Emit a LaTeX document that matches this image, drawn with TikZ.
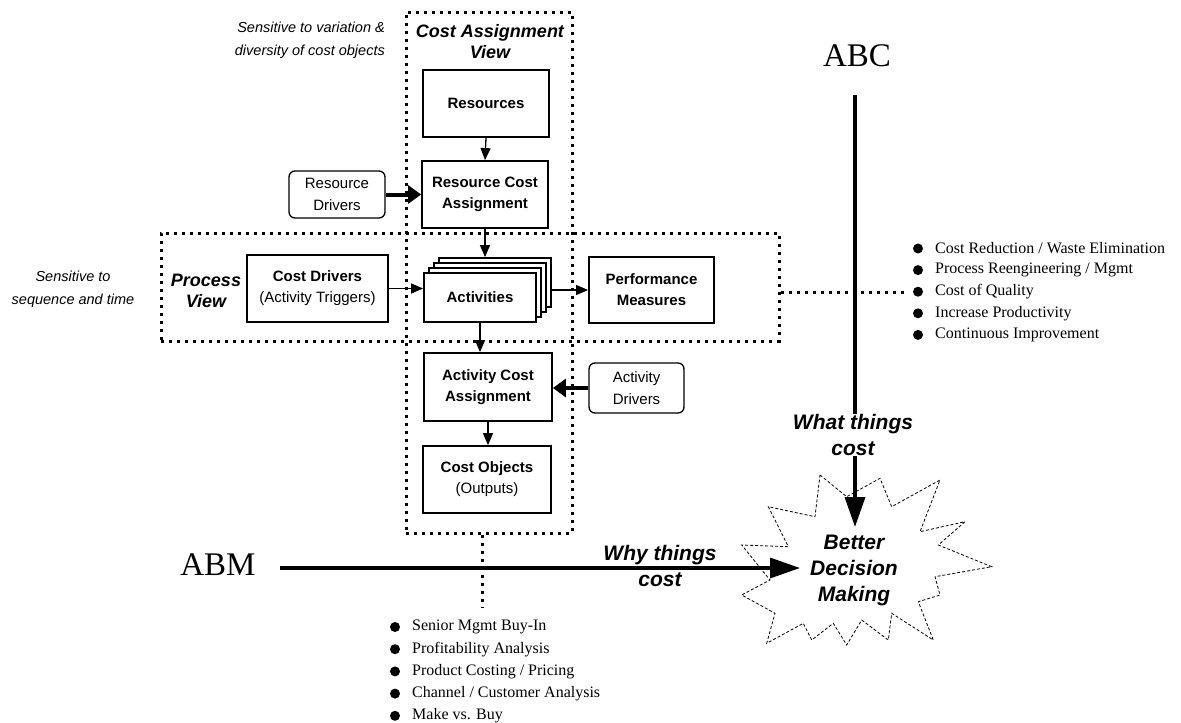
\documentclass[tikz,border=0pt]{standalone}
\usepackage{fontspec}
\setmainfont{Liberation Serif}
\setsansfont{Liberation Sans}
\usetikzlibrary{arrows.meta}

\begin{document}
\begin{tikzpicture}[x=1pt,y=-1pt,
  box/.style={draw, line width=1.8pt, fill=white, inner sep=0pt, align=center,
    font=\sffamily\fontsize{15}{21}\selectfont},
  drvbox/.style={draw, line width=1.3pt, rounded corners=6pt, fill=white, inner sep=0pt,
    align=center, font=\sffamily\fontsize{15}{22}\selectfont},
  dotframe/.style={line width=3pt, dash pattern=on 3pt off 5pt},
  flow/.style={line width=1.3pt, -{Triangle[length=12pt,width=10pt]}},
  drive/.style={line width=4pt, -{Triangle[length=13pt,width=18pt]}},
  bigline/.style={line width=3.5pt},
  bigarrow/.style={line width=3.5pt, -{Triangle[length=30pt,width=20pt]}},
  viewtitle/.style={font=\sffamily\bfseries\itshape\fontsize{18}{21}\selectfont,
    align=center, inner sep=0pt},
  sidenote/.style={font=\sffamily\itshape\fontsize{14.5}{23}\selectfont, inner sep=0pt},
  why/.style={font=\sffamily\bfseries\itshape\fontsize{21}{26}\selectfont,
    align=center, inner sep=0pt},
  bullettext/.style={font=\fontsize{16}{20}\selectfont, anchor=west, inner sep=0pt},
  bigletters/.style={font=\fontsize{33}{36}\selectfont, inner sep=0pt},
  burst/.style={line width=0.8pt, dash pattern=on 3pt off 2pt},
]
\useasboundingbox (0,0) rectangle (1181,723);

% dotted view frames
\node[dotframe, draw, minimum width=166, minimum height=521, inner sep=0pt] (cav) at (489,272.5) {};
\node[dotframe, draw, minimum width=618, minimum height=108, inner sep=0pt] (pv) at (470,287) {};

% frame titles and side notes
\node[viewtitle] (catitle) at (490,42) {Cost Assignment\\View};
\node[viewtitle] (pvtitle) at (206,291) {Process\\View};
\node[sidenote, align=right, anchor=east] (sensvar) at (385,40) {Sensitive to variation \&\\diversity of cost objects};
\node[sidenote, align=center] (sensseq) at (73,289) {Sensitive to\\sequence and time};

% cost assignment chain
\node[box, minimum width=126, minimum height=67] (res) at (486,103.5) {\bfseries Resources};
\node[box, minimum width=126, minimum height=67] (rca) at (485,194.5) {\bfseries Resource Cost\\\bfseries Assignment};
\foreach \k/\n in {3/actc,2/actb,1/acta}
  \node[box, minimum width=112, minimum height=49] (\n) at ({480+5*\k},{297.5-5*\k}) {};
\node[box, minimum width=112, minimum height=49] (act) at (480,297.5) {\bfseries Activities};
\node[box, minimum width=128, minimum height=68] (aca) at (488,387) {\bfseries Activity Cost\\\bfseries Assignment};
\node[box, minimum width=128, minimum height=67] (co) at (487,479.5) {\bfseries Cost Objects\\(Outputs)};

% process chain
\node[box, minimum width=141, minimum height=67] (cd) at (317.5,288.5) {\bfseries Cost Drivers\\(Activity Triggers)};
\node[box, minimum width=125, minimum height=66] (pm) at (651.5,290) {\bfseries Performance\\\bfseries Measures};

% drivers
\node[drvbox, minimum width=96, minimum height=47] (rd) at (337,194.5) {Resource\\Drivers};
\node[drvbox, minimum width=95, minimum height=50] (ad) at (636.5,388) {Activity\\Drivers};

% connectors
\draw[flow] (res.south) -- (rca.north);
\draw[flow] (rca.south) -- (rca.south |- actc.north);
\draw[flow] (act.south) -- (act.south |- aca.north);
\draw[flow] (aca.south) -- (aca.south |- co.north);
\draw[flow] (cd.east) -- (cd.east -| act.west);
\draw[flow] (actc.east |- pm.west) -- (pm.west);
\draw[drive] (rd.east) -- (rca.west |- rd.east);
\draw[drive] (ad.west) -- (aca.east |- ad.west);

% ABC list
\coordinate (qual) at (905,292);
\draw[dotframe] (pv.east |- qual) -- (qual);
\foreach \t [count=\i] in {Cost Reduction / Waste Elimination, Process Reengineering / Mgmt,
    Cost of Quality, Increase Productivity, Continuous Improvement} {
  \fill (918,{248.5+21.6*(\i-1)}) circle (5pt);
  \node[bullettext] (abcitem\i) at (935,{248.5+21.6*(\i-1)}) {\t};
}

% ABM list
\coordinate (blt) at (482,608);
\draw[dotframe] (cav.south -| blt) -- (blt);
\foreach \t [count=\i] in {Senior Mgmt Buy-In, Profitability Analysis,
    Product Costing / Pricing, Channel / Customer Analysis, Make vs. Buy} {
  \fill (395,{627+22.2*(\i-1)}) circle (5pt);
  \node[bullettext] (abmitem\i) at (412,{627+22.2*(\i-1)}) {\t};
}

% decision burst
\draw[burst] (820,475) -- (846.7,496.7) -- (880,478.3) -- (891.7,506.7) -- (940,480)
  -- (920,531.7) -- (965,521.7) -- (938.3,545) -- (991.7,566.7) -- (935,576.7)
  -- (940,595) -- (918.3,601.7) -- (933.3,640) -- (891.7,613.3) -- (888.3,640)
  -- (861.7,620) -- (846.7,645) -- (833.3,623.3) -- (811.7,640) -- (803.3,623.3)
  -- (766.7,643.3) -- (775,613.3) -- (741.7,595) -- (770,580) -- (741.7,545)
  -- (788.3,546.7) -- (768.3,506.7) -- (815,516.7) -- cycle;
\node[why] (bdm) at (854,570) {Better\\Decision\\Making};

% ABC axis
\node[bigletters] (abc) at (857,56) {ABC};
\coordinate (abcTop) at (855,95);
\coordinate (abcTip) at (855,527);
\node[why] (what) at (853,435) {What things\\cost};
\draw[bigline] (abcTop) -- (abcTop |- what.north);
\draw[bigarrow] (what.south -| abcTop) -- (abcTip);

% ABM axis
\node[bigletters] (abm) at (218,565) {ABM};
\coordinate (abmStart) at (280,568);
\coordinate (abmTip) at (800,568);
\draw[bigarrow] (abmStart) -- (abmTip);
\node[why] (whyl) at (660,566) {Why things\\cost};
\end{tikzpicture}
\end{document}
